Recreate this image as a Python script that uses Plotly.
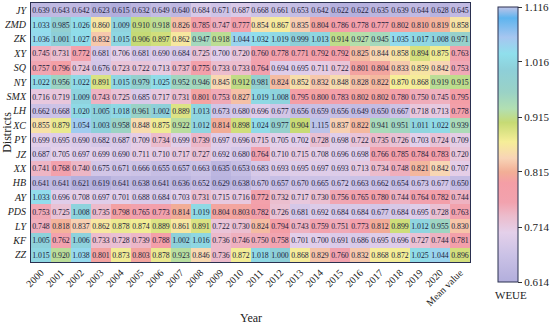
import plotly.graph_objects as go

years = [str(y) for y in range(2000, 2021)] + ["Mean value"]
districts = ["JY", "ZMD", "ZK", "XY", "SQ", "NY", "SMX", "LH", "XC", "PY", "JZ",
             "XX", "HB", "AY", "PDS", "LY", "KF", "ZZ"]

JY = [0.639, 0.643, 0.642, 0.623, 0.615, 0.632, 0.649, 0.640, 0.684, 0.671, 0.687, 0.668, 0.661, 0.653, 0.642, 0.622, 0.622, 0.635, 0.639, 0.644, 0.628, 0.645]
ZMD = [1.033, 0.985, 1.026, 0.860, 1.009, 0.910, 0.918, 0.826, 0.785, 0.747, 0.777, 0.854, 0.867, 0.835, 0.804, 0.786, 0.778, 0.777, 0.802, 0.810, 0.819, 0.858]
ZK = [1.036, 1.001, 1.027, 0.832, 1.015, 0.906, 0.897, 0.862, 0.947, 0.918, 1.044, 1.032, 1.019, 0.999, 1.013, 0.914, 0.927, 0.945, 1.035, 1.017, 1.008, 0.971]
XY = [0.745, 0.731, 0.772, 0.681, 0.706, 0.681, 0.690, 0.684, 0.725, 0.700, 0.720, 0.760, 0.778, 0.771, 0.792, 0.792, 0.825, 0.844, 0.858, 0.894, 0.875, 0.763]
SQ = [0.757, 0.796, 0.724, 0.676, 0.723, 0.722, 0.713, 0.737, 0.775, 0.733, 0.733, 0.764, 0.694, 0.695, 0.711, 0.722, 0.801, 0.804, 0.833, 0.859, 0.842, 0.753]
NY = [1.022, 0.956, 1.022, 0.891, 1.015, 0.979, 1.025, 0.952, 0.946, 0.845, 0.912, 0.981, 0.824, 0.852, 0.832, 0.848, 0.828, 0.822, 0.870, 0.868, 0.919, 0.915]
SMX = [0.716, 0.719, 1.009, 0.743, 0.725, 0.685, 0.717, 0.731, 0.801, 0.753, 0.827, 1.019, 1.008, 0.795, 0.800, 0.783, 0.802, 0.802, 0.780, 0.750, 0.745, 0.795]
LH = [0.662, 0.668, 1.020, 1.005, 1.018, 0.961, 1.002, 0.889, 1.013, 0.673, 0.680, 0.696, 0.677, 0.656, 0.659, 0.656, 0.649, 0.650, 0.667, 0.718, 0.713, 0.778]
XC = [0.855, 0.879, 1.054, 1.003, 0.958, 0.848, 0.875, 0.922, 1.012, 0.814, 0.898, 1.024, 0.977, 0.904, 1.115, 0.837, 0.822, 0.941, 0.951, 1.011, 1.022, 0.939]
PY = [0.699, 0.695, 0.690, 0.682, 0.687, 0.709, 0.734, 0.699, 0.739, 0.697, 0.696, 0.715, 0.705, 0.702, 0.728, 0.698, 0.722, 0.735, 0.726, 0.703, 0.724, 0.709]
JZ = [0.687, 0.705, 0.697, 0.699, 0.690, 0.711, 0.710, 0.717, 0.727, 0.692, 0.680, 0.764, 0.710, 0.715, 0.708, 0.696, 0.698, 0.766, 0.785, 0.784, 0.783, 0.720]
XX = [0.741, 0.768, 0.740, 0.675, 0.671, 0.666, 0.655, 0.657, 0.663, 0.635, 0.653, 0.683, 0.693, 0.695, 0.697, 0.693, 0.713, 0.734, 0.748, 0.821, 0.842, 0.707]
HB = [0.641, 0.641, 0.621, 0.619, 0.641, 0.638, 0.641, 0.636, 0.652, 0.629, 0.638, 0.670, 0.657, 0.670, 0.665, 0.672, 0.663, 0.662, 0.654, 0.673, 0.677, 0.650]
AY = [1.033, 0.696, 0.708, 0.697, 0.701, 0.688, 0.684, 0.703, 0.731, 0.715, 0.716, 0.772, 0.732, 0.717, 0.730, 0.756, 0.765, 0.780, 0.744, 0.764, 0.782, 0.744]
PDS = [0.753, 0.725, 1.008, 0.735, 0.798, 0.765, 0.773, 0.814, 1.019, 0.804, 0.803, 0.782, 0.726, 0.681, 0.692, 0.684, 0.684, 0.677, 0.684, 0.695, 0.728, 0.763]
LY = [0.748, 0.818, 0.837, 0.862, 0.878, 0.874, 0.889, 0.861, 0.891, 0.722, 0.730, 0.824, 0.794, 0.743, 0.759, 0.751, 0.773, 0.812, 0.899, 1.012, 0.955, 0.830]
KF = [1.005, 0.762, 1.006, 0.733, 0.728, 0.739, 0.788, 1.002, 1.016, 0.736, 0.746, 0.750, 0.758, 0.701, 0.700, 0.691, 0.686, 0.695, 0.696, 0.727, 0.744, 0.781]
ZZ = [1.015, 0.920, 1.038, 0.801, 0.873, 0.803, 0.878, 0.923, 0.846, 0.736, 0.872, 1.018, 1.000, 0.868, 0.829, 0.760, 0.832, 0.868, 0.872, 1.025, 1.044, 0.896]

z = [JY, ZMD, ZK, XY, SQ, NY, SMX, LH, XC, PY, JZ, XX, HB, AY, PDS, LY, KF, ZZ]

cb_ticks = [0.614, 0.714, 0.815, 0.915, 1.016, 1.116]
cb_min, cb_max = 0.614, 1.116

colorscale = [
    [0.00, "#b2aedc"],
    [0.10, "#cbc2e6"],
    [0.18, "#e4d0ea"],
    [0.24, "#ecbccc"],
    [0.29, "#f2a2ae"],
    [0.36, "#f49ea6"],
    [0.40, "#f2ae96"],
    [0.45, "#f8d4b6"],
    [0.51, "#f6ee98"],
    [0.58, "#c6da74"],
    [0.63, "#b2dfb2"],
    [0.69, "#9ad2c6"],
    [0.77, "#8ecfd8"],
    [0.83, "#90dfec"],
    [0.89, "#a6c6f0"],
    [0.96, "#5eb4ee"],
    [1.00, "#c0c4e8"],
]

serif = "Liberation Serif, Times New Roman, serif"

# keep end ticks just inside the range so floating point does not drop them
tick_pos = [min(max(v, cb_min + 1e-6), cb_max - 1e-6) for v in cb_ticks]

fig = go.Figure(go.Heatmap(
    z=z, x=years, y=districts,
    zmin=cb_min, zmax=cb_max,
    colorscale=colorscale,
    texttemplate="%{z:.3f}",
    textfont=dict(family=serif, size=7.8, color="#1c1c3a"),
    colorbar=dict(
        x=(498 - 31) / 439, xanchor="left", xpad=0,
        y=(262 - 7) / 259, yanchor="top", ypad=0,
        lenmode="pixels", len=275,
        thickness=20, thicknessmode="pixels",
        outlinecolor="#2a3050", outlinewidth=1,
        tickvals=tick_pos, ticktext=[f"{v:.3f}" for v in cb_ticks],
        ticks="outside", ticklen=4, tickcolor="#333",
        ticklabeloverflow="allow",
        tickfont=dict(family=serif, size=11, color="#222"),
    ),
))

fig.update_layout(
    width=550, height=329,
    margin=dict(l=31, r=80, t=3, b=67, autoexpand=False),
    paper_bgcolor="white", plot_bgcolor="white",
    font=dict(family=serif, color="#222"),
    xaxis=dict(
        tickangle=-45, tickfont=dict(family=serif, size=10),
        showline=True, mirror=True, linecolor="#2a3050", linewidth=1,
        ticks="",
    ),
    yaxis=dict(
        autorange="reversed",
        tickfont=dict(family=serif, size=10, style="italic"),
        showline=True, mirror=True, linecolor="#2a3050", linewidth=1,
        ticks="", ticklabelstandoff=2,
        title=dict(text="Districts", font=dict(family=serif, size=12), standoff=2),
    ),
    annotations=[
        dict(text="WEUE", xref="paper", yref="paper",
             x=(493 - 31) / 439, y=-33 / 259, xanchor="left", yanchor="middle",
             showarrow=False, font=dict(family=serif, size=11, color="#222")),
        dict(text="Year", xref="paper", yref="paper",
             x=0.5, y=-56 / 259, xanchor="center", yanchor="middle",
             showarrow=False, font=dict(family=serif, size=12, color="#222")),
    ],
)

fig.write_html("out.html", config={"displayModeBar": False},
               post_script="document.body.style.margin='0px';")
